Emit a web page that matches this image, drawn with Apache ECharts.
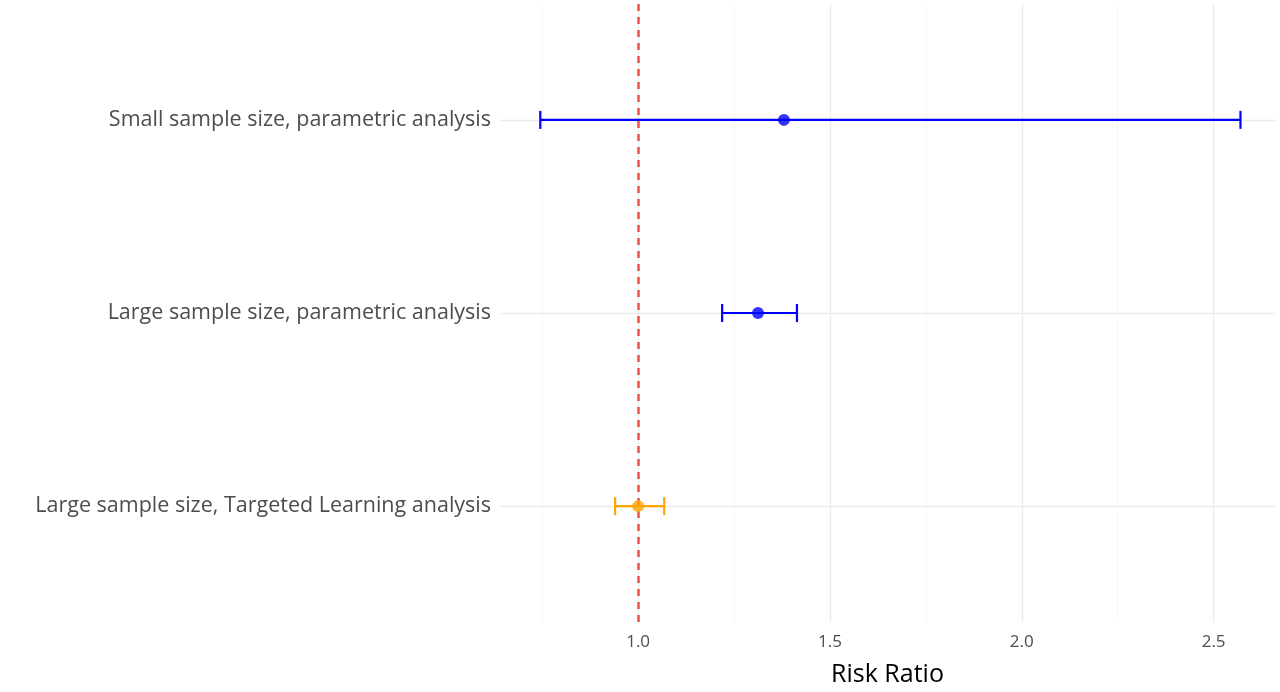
<!DOCTYPE html>
<html><head><meta charset="utf-8">
<script src="https://cdn.jsdelivr.net/npm/echarts@6/dist/echarts.min.js"></script>
<style>html,body{margin:0;padding:0;background:#fff}#c{width:1280px;height:692px}</style>
</head><body><div id="c"></div>
<script>
const categories = ["Large sample size, Targeted Learning analysis","Large sample size, parametric analysis","Small sample size, parametric analysis"];
const estimates = [1.0, 1.3125, 1.38];
const lower = [0.94, 1.219, 0.745];
const upper = [1.068, 1.414, 2.57];
const colors = ["#ffa500", "#0000ff", "#0000ff"];
const xTicks = [1.0, 1.5, 2.0, 2.5];
const xMinor = [0.75, 1.25, 1.75, 2.25];

const chart = echarts.init(document.getElementById('c'));
const rows = categories.map((c,i)=>[lower[i], upper[i], i+1, colors[i]]);
const pts = categories.map((c,i)=>({value:[estimates[i], i+1], itemStyle:{color:colors[i]}}));
const grid = [];
xMinor.forEach(v=>grid.push({xAxis:v, lineStyle:{color:'#f7f7f7', width:1, type:'solid'}}));
xTicks.forEach(v=>grid.push({xAxis:v, lineStyle:{color:'#ebebeb', width:1.3, type:'solid'}}));
[1,2,3].forEach(v=>grid.push({yAxis:v, lineStyle:{color:'#ebebeb', width:1.3, type:'solid'}}));

chart.setOption({
  animation:false,
  grid:{left:500, right:5, top:4, bottom:68},
  xAxis:{type:'value', min:0.64, max:2.66, name:'Risk Ratio', nameLocation:'middle', nameGap:40,
    nameTextStyle:{fontSize:25, color:'#000', fontFamily:'Open Sans'},
    axisLine:{show:false}, axisTick:{show:false}, splitLine:{show:false},
    axisLabel:{customValues:xTicks, formatter:v=>v.toFixed(1), fontSize:17, color:'#4d4d4d', margin:12, fontFamily:'Open Sans'}},
  yAxis:{type:'value', min:0.4, max:3.6, axisLine:{show:false}, axisTick:{show:false}, splitLine:{show:false},
    axisLabel:{customValues:[1,2,3], formatter:v=>categories[Math.round(v)-1], fontSize:21.5, color:'#4d4d4d', margin:9, fontFamily:'Open Sans'}},
  series:[
    {type:'line', data:[], silent:true, markLine:{silent:true, symbol:'none', label:{show:false}, data:grid}},
    {type:'line', data:[], silent:true, z:5, markLine:{silent:true, symbol:'none', label:{show:false},
      data:[{xAxis:1, lineStyle:{color:'#f0504a', width:2.5, type:[7,6]}}]}},
    {type:'custom', z:6, data:rows, renderItem:(params, api)=>{
      const a = api.coord([api.value(0), api.value(2)]);
      const b = api.coord([api.value(1), api.value(2)]);
      const col = rows[params.dataIndex][3];
      const st = {stroke:col, lineWidth:2.2};
      return {type:'group', children:[
        {type:'line', shape:{x1:a[0],y1:a[1],x2:b[0],y2:b[1]}, style:st},
        {type:'line', shape:{x1:a[0],y1:a[1]-9,x2:a[0],y2:a[1]+9}, style:st},
        {type:'line', shape:{x1:b[0],y1:b[1]-9,x2:b[0],y2:b[1]+9}, style:st}
      ]};
    }},
    {type:'scatter', z:7, symbolSize:12, data:pts}
  ]
});
</script></body></html>
